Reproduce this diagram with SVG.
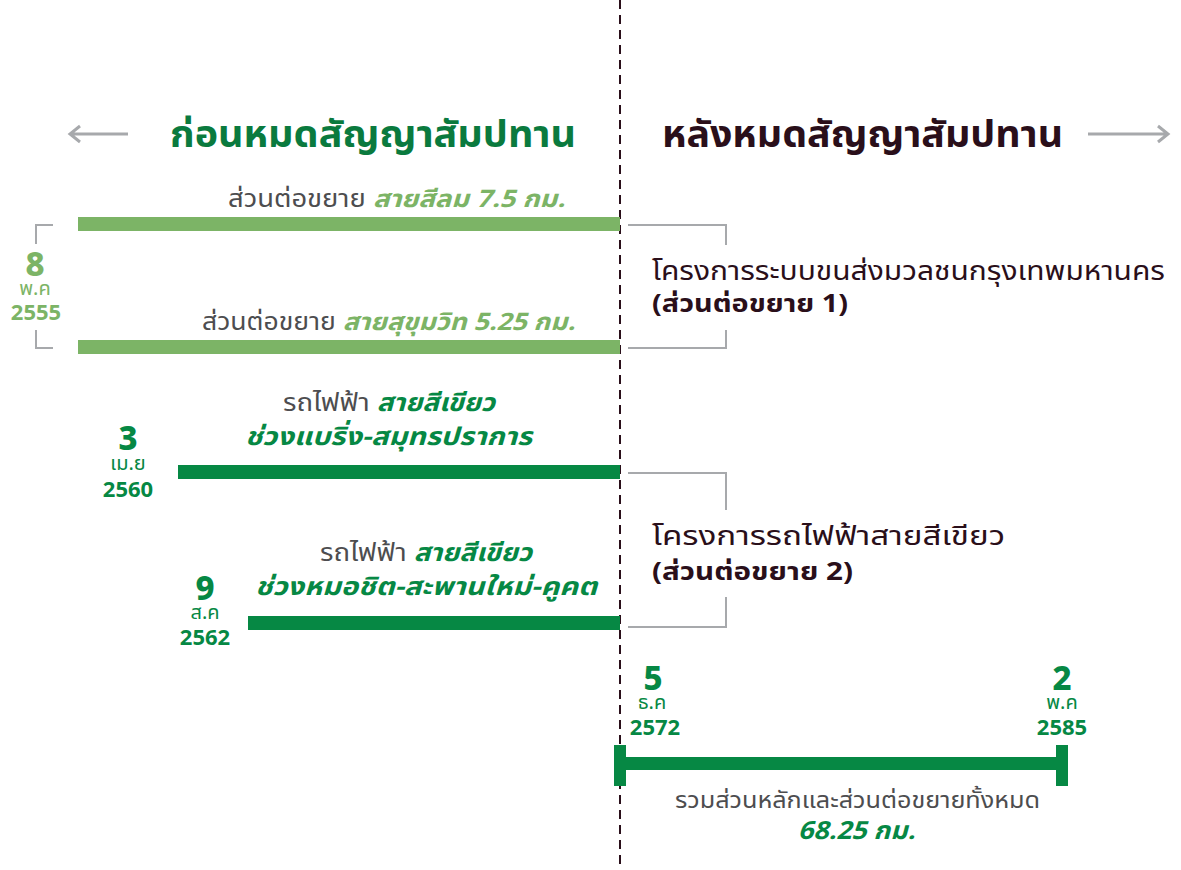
<svg xmlns="http://www.w3.org/2000/svg" width="1181" height="870" viewBox="0 0 1181 870">
<style>
text{font-family:"Noto Sans Thai","Noto Sans Thai Looped","Noto Sans","DejaVu Sans",sans-serif}
.gray{fill:#4d4d4f}
.dk{fill:#2a0f1a}
.lg{fill:#7cb466}
.dg{fill:#068844}
.tg{fill:#0a7a3e}
.bi{font-weight:700;font-style:italic}
.b{font-weight:700}
.n{font-weight:800;font-size:33px}
.m{font-size:20px}
.y{font-weight:700;font-size:22px}
.br{fill:none;stroke:#a7a9ac;stroke-width:2}
.ar{fill:none;stroke:#a7a9ac;stroke-width:3}
</style>
<rect width="1181" height="870" fill="#fff"/>
<g id="connectors">
<line x1="620" y1="0" x2="620" y2="870" stroke="#2a0f1a" stroke-width="2" stroke-dasharray="9,6"/>
<path class="ar" d="M128 134H70M80 126L70 134L80 142"/>
<path class="ar" d="M1088 134H1168M1158 126L1168 134L1158 142"/>
<path class="br" d="M53 225H36V244M53 348H36V330"/>
<path class="br" d="M628 225H726V245M628 348H726V330"/>
<path class="br" d="M628 473H726V510M628 627H726V597"/>
</g>
<g id="title-before"><text x="170" y="147" class="tg b" font-size="37" textLength="406" lengthAdjust="spacingAndGlyphs">ก่อนหมดสัญญาสัมปทาน</text></g>
<g id="title-after"><text x="662" y="147" class="dk b" font-size="37" textLength="401" lengthAdjust="spacingAndGlyphs">หลังหมดสัญญาสัมปทาน</text></g>
<g id="silom">
<rect x="78" y="217" width="542" height="14" fill="#7cb466"/>
<text x="228" y="207" font-size="24" textLength="337" lengthAdjust="spacingAndGlyphs"><tspan class="gray">ส่วนต่อขยาย </tspan><tspan class="lg bi">สายสีลม 7.5 กม.</tspan></text>
</g>
<g id="sukhumvit">
<rect x="78" y="340" width="542" height="14" fill="#7cb466"/>
<text x="202" y="330" font-size="24" textLength="373" lengthAdjust="spacingAndGlyphs"><tspan class="gray">ส่วนต่อขยาย </tspan><tspan class="lg bi">สายสุขุมวิท 5.25 กม.</tspan></text>
</g>
<g id="date-2555" class="lg" text-anchor="middle">
<text x="35" y="276" class="n">8</text>
<text x="35" y="295" class="m">พ.ค</text>
<text x="36" y="320" class="y">2555</text>
</g>
<g id="green-bearing">
<rect x="178" y="465" width="442" height="14" fill="#068844"/>
<text x="283" y="411" font-size="25" textLength="212" lengthAdjust="spacingAndGlyphs"><tspan class="gray">รถไฟฟ้า </tspan><tspan class="dg bi">สายสีเขียว</tspan></text>
<text x="245" y="445" font-size="25" class="dg bi" textLength="287" lengthAdjust="spacingAndGlyphs">ช่วงแบริ่ง-สมุทรปราการ</text>
</g>
<g id="date-2560" class="dg" text-anchor="middle">
<text x="128" y="450" class="n">3</text>
<text x="128" y="470" class="m">เม.ย</text>
<text x="128" y="497" class="y">2560</text>
</g>
<g id="green-mochit">
<rect x="248" y="616" width="372" height="14" fill="#068844"/>
<text x="320" y="561" font-size="25" textLength="212" lengthAdjust="spacingAndGlyphs"><tspan class="gray">รถไฟฟ้า </tspan><tspan class="dg bi">สายสีเขียว</tspan></text>
<text x="255" y="595" font-size="25" class="dg bi" textLength="342" lengthAdjust="spacingAndGlyphs">ช่วงหมอชิต-สะพานใหม่-คูคต</text>
</g>
<g id="date-2562" class="dg" text-anchor="middle">
<text x="205" y="600" class="n">9</text>
<text x="205" y="619" class="m">ส.ค</text>
<text x="205" y="645" class="y">2562</text>
</g>
<g id="project-1">
<text x="652" y="280" class="dk" font-size="27" textLength="513" lengthAdjust="spacingAndGlyphs">โครงการระบบขนส่งมวลชนกรุงเทพมหานคร</text>
<text x="652" y="312" class="dk b" font-size="25" textLength="196" lengthAdjust="spacingAndGlyphs">(ส่วนต่อขยาย 1)</text>
</g>
<g id="project-2">
<text x="652" y="545" class="dk" font-size="27" textLength="353" lengthAdjust="spacingAndGlyphs">โครงการรถไฟฟ้าสายสีเขียว</text>
<text x="652" y="580" class="dk b" font-size="25" textLength="201" lengthAdjust="spacingAndGlyphs">(ส่วนต่อขยาย 2)</text>
</g>
<g id="total">
<rect x="614" y="757" width="454" height="13" fill="#068844"/>
<rect x="614" y="745" width="12" height="41" fill="#068844"/>
<rect x="1056" y="745" width="12" height="41" fill="#068844"/>
<text x="675" y="808" class="gray" font-size="23" textLength="365" lengthAdjust="spacingAndGlyphs">รวมส่วนหลักและส่วนต่อขยายทั้งหมด</text>
<text x="798" y="839" class="dg bi" font-size="25" textLength="117" lengthAdjust="spacingAndGlyphs">68.25 กม.</text>
</g>
<g id="date-2572" class="dg" text-anchor="middle">
<text x="653" y="690" class="n">5</text>
<text x="652" y="709" class="m">ธ.ค</text>
<text x="655" y="735" class="y">2572</text>
</g>
<g id="date-2585" class="dg" text-anchor="middle">
<text x="1062" y="690" class="n">2</text>
<text x="1062" y="709" class="m">พ.ค</text>
<text x="1062" y="735" class="y">2585</text>
</g>
</svg>
